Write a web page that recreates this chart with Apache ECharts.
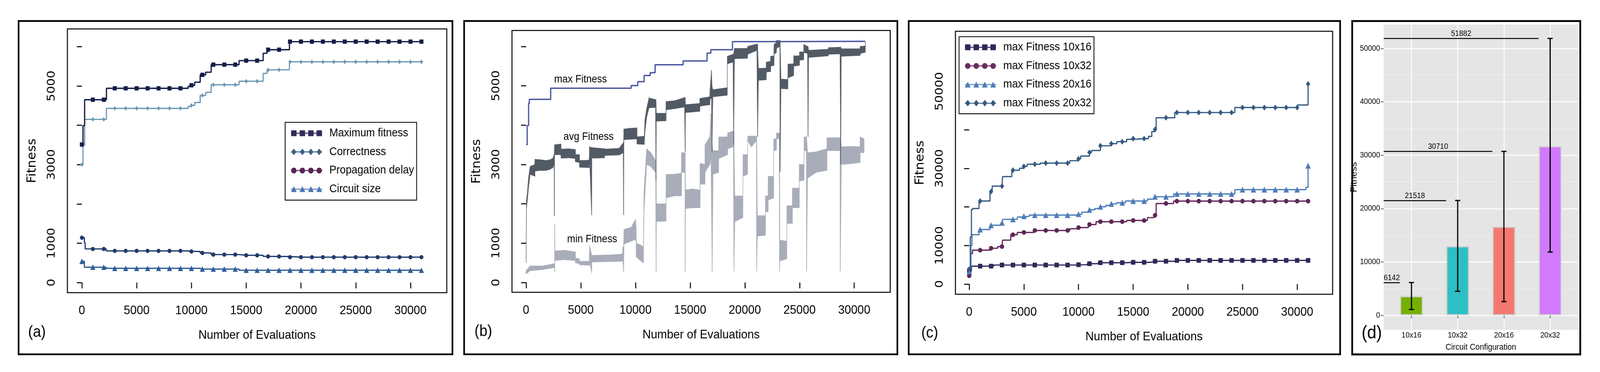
<!DOCTYPE html>
<html><head><meta charset="utf-8">
<script src="https://cdn.jsdelivr.net/npm/echarts@6/dist/echarts.min.js"></script>
<style>html,body{margin:0;padding:0;background:#fff;overflow:hidden}#c{position:absolute;left:0;top:0;width:4416px;height:952px;transform-origin:0 0}</style>
</head><body><div id="c"></div>
<script>
// ---------------- shared ticks ----------------
const evalTicks = [0,5000,10000,15000,20000,25000,30000];
const fitTicks = [0,1000,2000,3000,4000,5000,6000];
const fitTickLabels = [0,1000,3000,5000];

// ---------------- panel (a) ----------------
const aMaxFitness = [[0,3510],[100,3990],[250,4650],[1000,4650],[2000,4650],[2240,4940],[3000,4940],[4000,4940],[5000,4940],[6000,4940],[7000,4940],[8000,4940],[9000,4940],[9700,4990],[10000,5018],[10300,5096],[10800,5283],[11000,5283],[11300,5349],[11800,5542],[12000,5542],[13000,5542],[14000,5542],[14350,5645],[15000,5645],[16000,5645],[16550,5831],[16900,5922],[17000,5922],[18000,5922],[18950,6127],[19000,6127],[20000,6127],[21000,6127],[22000,6127],[23000,6127],[24000,6127],[25000,6127],[26000,6127],[27000,6127],[28000,6127],[29000,6127],[30000,6127],[31000,6127]];
const aCorrectness = [[0,3000],[100,3500],[250,4150],[1000,4150],[2000,4150],[2240,4430],[3000,4430],[4000,4430],[5000,4430],[6000,4430],[7000,4430],[8000,4430],[9000,4430],[9700,4476],[10000,4506],[10300,4578],[10800,4759],[11000,4759],[11300,4837],[11800,5030],[12000,5030],[13000,5030],[14000,5030],[14350,5120],[15000,5120],[16000,5120],[16550,5319],[16900,5410],[17000,5410],[18000,5410],[18950,5614],[19000,5614],[20000,5614],[21000,5614],[22000,5614],[23000,5614],[24000,5614],[25000,5614],[26000,5614],[27000,5614],[28000,5614],[29000,5614],[30000,5614],[31000,5614]];
const aPropDelay = [[0,1140],[230,1010],[300,855],[1000,853],[2000,853],[2220,805],[3000,805],[4000,805],[5000,805],[6000,805],[7000,805],[8000,805],[9000,805],[9700,795],[10000,790],[10800,755],[11000,753],[11800,711],[12000,711],[13000,711],[14000,711],[14350,693],[15000,693],[16000,693],[16550,665],[17000,663],[18000,663],[18950,645],[19000,645],[20000,645],[21000,645],[22000,645],[23000,645],[24000,645],[25000,645],[26000,645],[27000,645],[28000,645],[29000,645],[30000,645],[31000,645]];
const aCircuitSize = [[0,540],[230,390],[1000,390],[2000,390],[2220,361],[3000,361],[4000,361],[5000,361],[6000,361],[7000,361],[8000,361],[9000,361],[10000,361],[10800,343],[11000,343],[12000,343],[13000,343],[14000,343],[14350,313],[15000,313],[16000,313],[17000,313],[18000,313],[19000,313],[20000,313],[21000,313],[22000,313],[23000,313],[24000,313],[25000,313],[26000,313],[27000,313],[28000,313],[29000,313],[30000,313],[31000,313]];

// ---------------- panel (b) ----------------
const bMaxFitness = [[0,3503],[100,3990],[230,4560],[300,4655],[2243,4939],[9604,5006],[10211,5103],[10792,5261],[11346,5333],[11794,5533],[14354,5630],[16544,5830],[16887,5915],[18865,6121],[23200,6130],[31000,6130]];
// [evaluations, band low, band high]
const bAvgBand = [[0,500,560],[30,1900,2100],[100,2050,2250],[220,2400,2650],[370,2750,2950],[800,2700,3000],[810,2830,3130],[1300,2850,3120],[1840,2850,3100],[2200,2880,3120],[2450,2920,3160],[2570,3000,3260],[2585,1685,3260],[2600,3250,3500],[3180,3250,3520],[3200,3160,3390],[3900,3170,3400],[4500,3150,3380],[4510,3070,3250],[4880,3050,3250],[4890,2930,3100],[5770,2920,3110],[5800,3210,3450],[5990,1712,3430],[6010,3160,3430],[7170,3170,3400],[7180,3230,3390],[8500,3240,3410],[8880,3300,3550],[8918,1715,3550],[8940,3630,3900],[9500,3640,3920],[10130,3650,3930],[10140,3520,3700],[10800,3510,3720],[10870,3850,4150],[11020,4200,4420],[11240,4440,4690],[11830,4450,4650],[11873,2594,4650],[11900,4100,4300],[12790,4110,4300],[12800,4390,4600],[13600,4420,4620],[14490,4460,4700],[14540,3321,4700],[14570,4320,4520],[15880,4350,4550],[15890,4480,4680],[16800,4520,4720],[16810,4650,4870],[16950,4700,5400],[16992,3321,5000],[17070,4720,4900],[18390,4760,4950],[18400,5560,5750],[18920,5600,5800],[18971,3500,5800],[19050,5690,5950],[20240,5700,5950],[20250,5800,6000],[21100,5900,6060],[21161,3704,6050],[21240,5140,5440],[21950,5150,5450],[21960,5350,5600],[22350,5360,5620],[22360,5500,5750],[22660,5520,5760],[22670,5800,6050],[22880,5850,6100],[22890,5950,6150],[23200,6000,6150],[23219,2810,6150],[23300,4930,5170],[23930,4920,5160],[23940,5200,5550],[24460,5260,5560],[24470,5500,5760],[24990,5520,5760],[25000,5650,5860],[25380,5660,5860],[25390,5850,6050],[25730,5820,6000],[25778,3704,6000],[25830,5720,5900],[27630,5760,5930],[27640,5800,5970],[28700,5810,5980],[28760,3009,5980],[28810,5750,5940],[30530,5770,5940],[30540,5820,6000],[31000,5850,6010],[31010,6100,6120]];
const bMinBand = [[0,220,300],[370,300,420],[1500,330,420],[2590,380,480],[2610,260,480],[2620,700,1490],[2640,560,800],[3500,580,820],[4500,560,780],[4510,500,620],[4880,480,600],[4890,450,540],[5770,440,540],[5810,500,930],[5990,260,700],[6010,520,690],[7500,530,700],[8800,540,720],[8850,560,900],[8920,260,900],[8950,980,1350],[9600,1050,1400],[10000,1100,1600],[10060,1000,1400],[10070,650,1000],[10500,550,950],[10720,500,900],[10780,1800,2300],[11020,3000,3400],[11400,2950,3300],[11840,2800,3100],[11880,260,3100],[11910,1550,2000],[12790,1560,2000],[12800,2150,2750],[13500,2200,2750],[14200,2200,2780],[14210,2800,3300],[14530,2800,3300],[14540,280,3300],[14570,1880,2350],[15200,1900,2380],[15900,1900,2350],[15910,2500,3030],[16350,2500,3000],[16360,2800,3500],[16800,3000,3700],[16900,3200,4300],[17010,260,3500],[17090,2750,3350],[17600,2800,3350],[17610,3150,3700],[18420,3250,3700],[18430,3400,3800],[18950,3450,3850],[19000,280,3800],[19080,1550,2200],[19820,1650,2200],[19830,2700,3250],[20250,2750,3250],[20260,3600,3720],[20600,3450,3720],[21050,3600,3720],[21080,286,3720],[21140,1180,1700],[21880,1200,1700],[21890,1800,2200],[22130,1800,2200],[22140,2100,2700],[22630,2150,2700],[22640,3350,3650],[22880,3360,3650],[22890,3650,3800],[23140,3650,3800],[23170,286,3800],[23200,550,1080],[23830,600,1050],[23840,1500,1950],[24340,1500,1950],[24350,1900,2400],[24970,1900,2400],[24980,2580,3000],[25410,2600,3000],[25420,3350,3700],[25620,3350,3700],[25640,286,3700],[25730,2650,3300],[26500,2800,3320],[27500,2850,3400],[27510,3350,3680],[28700,3350,3680],[28720,286,3680],[28820,3000,3450],[29700,3020,3460],[30530,3050,3450],[30540,3300,3700],[30900,3300,3650]];
const bLabelText = ['max Fitness','avg Fitness','min Fitness'];
const bLabelAt = [[4980,5160],[5710,3700],[6040,1100]];

// ---------------- panel (c) ----------------
const cFitTicks = [0,10000,20000,30000,40000,50000,60000];
const cFitTickLabels = [0,10000,30000,50000];
const c10x16 = [[0,3510],[200,4650],[1000,4650],[2000,4650],[2240,4940],[3000,4940],[4000,4940],[5000,4940],[6000,4940],[7000,4940],[8000,4940],[9000,4940],[9700,4990],[10000,5018],[10800,5283],[11000,5283],[11800,5542],[12000,5542],[13000,5542],[14000,5542],[14350,5645],[15000,5645],[16000,5645],[16550,5831],[16900,5922],[17000,5922],[18000,5922],[18950,6142],[19000,6142],[20000,6142],[21000,6142],[22000,6142],[23000,6142],[24000,6142],[25000,6142],[26000,6142],[27000,6142],[28000,6142],[29000,6142],[30000,6142],[31000,6142]];
const c10x32 = [[0,2150],[150,7900],[300,8800],[1000,8800],[1900,9300],[2000,9300],[2600,9720],[3000,9720],[3050,11400],[3800,12800],[4000,12800],[4400,13400],[5000,13400],[5900,13900],[6000,13900],[7000,13900],[8000,13900],[9000,13900],[9200,14340],[10000,14650],[10900,15450],[11000,15450],[11600,16180],[12000,16180],[13000,16180],[14000,16180],[14400,16500],[15000,16500],[16000,16500],[16300,17230],[16900,17850],[17000,17850],[17100,20900],[18000,20900],[18700,21518],[19000,21518],[20000,21518],[21000,21518],[22000,21518],[23000,21518],[24000,21518],[25000,21518],[26000,21518],[27000,21518],[28000,21518],[29000,21518],[30000,21518],[31000,21518]];
const c20x16 = [[0,3260],[150,10000],[250,12800],[900,14150],[1000,14150],[1900,15260],[2000,15260],[2900,15880],[3000,15880],[3050,16800],[4000,16800],[4400,17400],[5000,17600],[5500,17900],[6000,17900],[7000,17900],[8000,17900],[9000,17900],[9800,18000],[10000,18150],[10300,18650],[11000,19260],[11500,19600],[12000,20060],[12500,20400],[13000,20800],[13500,21100],[14000,21100],[14300,21540],[15000,21540],[16000,21540],[16300,22030],[16900,22650],[17000,22650],[18000,22650],[18700,23380],[19000,23380],[20000,23380],[21000,23380],[22000,23380],[23000,23380],[24000,23380],[24300,24490],[25000,24490],[26000,24490],[27000,24490],[28000,24490],[29000,24490],[30000,24490],[30800,25100],[31000,30710]];
const c20x32 = [[0,3880],[100,12200],[200,19300],[300,19600],[900,21540],[1000,21540],[1900,24000],[2000,24000],[2100,25400],[3000,25420],[3050,27880],[3900,29540],[4000,29540],[4600,30030],[5000,30520],[5300,31080],[6000,31080],[6500,31380],[7000,31380],[8000,31380],[9000,31380],[9200,32000],[10000,32490],[10200,33200],[11000,34150],[11200,34650],[12000,35880],[13000,36430],[13500,36920],[14000,36920],[14400,37540],[15000,37720],[16000,37720],[16400,38300],[16700,39570],[17000,40120],[17100,43140],[18000,43140],[18800,44490],[19000,44490],[20000,44490],[21000,44490],[22000,44490],[23000,44490],[24000,44490],[24300,45790],[25000,45790],[26000,45790],[27000,45790],[28000,45790],[29000,45790],[30000,45790],[30050,46460],[31000,51882]];

// ---------------- panel (d) ----------------
const dCategories = ['10x16','10x32','20x16','20x32'];
const dMean = [3600,12950,16620,31700];
const dLow = [1100,4500,2560,11860];
const dHigh = [6142,21518,30710,51882];
const dTicks = [0,10000,20000,30000,40000,50000];
const dMinorTicks = [5000,15000,25000,35000,45000];

// ---------------- styling / layout ----------------
const SANS = "'Liberation Sans',Arial,sans-serif";
const DEJAVU = "'DejaVu Sans',sans-serif";

// fit the 4416x952 drawing into whatever viewport the browser reports
(function(){
  const el = document.getElementById('c');
  const sx = (window.innerWidth || 4416) / 4416, sy = (window.innerHeight || 952) / 952;
  el.style.transform = 'scale(' + sx + ',' + sy + ')';
})();

function rAxisX(g, min, max) {
  return {type:'value', gridIndex:g, min:min, max:max,
    axisLine:{show:false},
    axisTick:{show:true, length:15, lineStyle:{color:'#000', width:2.6}, customValues:evalTicks},
    axisLabel:{show:true, customValues:evalTicks, formatter:function(v){return String(v);}, margin:30,
      fontFamily:SANS, fontSize:32, color:'#000'},
    splitLine:{show:false},
    name:'Number of Evaluations', nameLocation:'middle', nameGap:93,
    nameTextStyle:{fontFamily:SANS, fontSize:32, color:'#000'}};
}
function rAxisY(g, min, max, ticks, labels) {
  return {type:'value', gridIndex:g, min:min, max:max,
    axisLine:{show:false},
    axisTick:{show:true, length:14, lineStyle:{color:'#000', width:2.6}, customValues:ticks},
    axisLabel:{show:true, customValues:labels, formatter:function(v){return String(v);}, rotate:90, margin:28,
      fontFamily:DEJAVU, fontSize:31, color:'#000'},
    splitLine:{show:false},
    name:'Fitness', nameLocation:'middle', nameGap:80,
    nameTextStyle:{fontFamily:DEJAVU, fontSize:33, color:'#000'}};
}
function stepLine(name, data, g, color, width, symbol, size, z) {
  return {type:'line', name:name, xAxisIndex:g, yAxisIndex:g, data:data, step:'end',
    symbol:function(v){ return (v[0] % 1000 === 0) ? symbol : 'none'; },
    symbolSize:size, showSymbol:true, showAllSymbol:true,
    lineStyle:{color:color, width:width}, itemStyle:{color:color, borderWidth:0},
    emphasis:{disabled:true}, z:z};
}
// noisy band drawn as filled quads between consecutive readings
function bandSeries(name, rows, g, color, z) {
  const segs = [];
  for (let i = 0; i < rows.length - 1; i++) {
    segs.push([rows[i][0], rows[i][1], rows[i][2], rows[i+1][0], rows[i+1][1], rows[i+1][2]]);
  }
  return {type:'custom', name:name, xAxisIndex:g, yAxisIndex:g, z:z, data:segs,
    encode:{x:[0,3], y:[1,2,4,5]}, silent:true,
    renderItem:function(params, api){
      const p1 = api.coord([api.value(0), api.value(1)]);
      const p2 = api.coord([api.value(0), api.value(2)]);
      const p3 = api.coord([api.value(3), api.value(5)]);
      const p4 = api.coord([api.value(3), api.value(4)]);
      return {type:'polygon', shape:{points:[p1,p2,p3,p4]}, style:{fill:color, stroke:color, lineWidth:1.3}};
    }};
}
const CX = [8, 31.5, 55, 78];
function legendIcon(kind) {
  let p = 'path://M0 0M101 24M0 10.8L86 10.8L86 13.2L0 13.2Z';
  CX.forEach(function(c){
    if (kind === 'sq') p += 'M'+(c-7.5)+' 4.5L'+(c+7.5)+' 4.5L'+(c+7.5)+' 19.5L'+(c-7.5)+' 19.5Z';
    if (kind === 'dia') p += 'M'+(c-7)+' 12L'+c+' 3.5L'+(c+7)+' 12L'+c+' 20.5Z';
    if (kind === 'cir') p += 'M'+(c-7.5)+' 12A7.5 7.5 0 1 1 '+(c+7.5)+' 12A7.5 7.5 0 1 1 '+(c-7.5)+' 12Z';
    if (kind === 'tri') p += 'M'+(c-8)+' 19.5L'+c+' 4.5L'+(c+8)+' 19.5Z';
  });
  return p;
}
function legendBox(left, top, padV, items) {
  return {show:true, orient:'vertical', left:left, top:top, padding:[padV,7,padV,16],
    itemGap:18.7, itemWidth:101, itemHeight:24, selectedMode:false,
    borderColor:'#000', borderWidth:2.2, backgroundColor:'#fff',
    textStyle:{fontFamily:SANS, fontSize:29, color:'#000', lineHeight:24},
    data:items.map(function(it){ return {name:it[0], icon:legendIcon(it[1]), itemStyle:{color:it[2], borderWidth:0}}; })};
}

const chart = echarts.init(document.getElementById('c'), null, {renderer:'canvas', width:4416, height:952});
const dIdx = dCategories.map(function(c,i){return i+1;});
const dColors = ['#74B000','#2DBFC4','#F4786F','#D17AFE'];

const option = {
  animation:false,
  backgroundColor:'#fff',
  textStyle:{fontFamily:SANS},
  grid:[
    {left:186, top:74, width:1047, height:675, show:true, borderColor:'#000', borderWidth:2.7, backgroundColor:'transparent', outerBoundsMode:'none'},
    {left:1413, top:78, width:1044, height:670, show:true, borderColor:'#000', borderWidth:2.7, backgroundColor:'transparent', outerBoundsMode:'none'},
    {left:2637, top:80, width:1041, height:673, show:true, borderColor:'#000', borderWidth:2.7, backgroundColor:'transparent', outerBoundsMode:'none'},
    {left:3819, top:63, width:536, height:781, show:true, borderWidth:0, backgroundColor:'#E5E5E5', outerBoundsMode:'none'}
  ],
  xAxis:[
    rAxisX(0, -1323, 33311),
    rAxisX(1, -1292, 33289),
    rAxisX(2, -1260, 33245),
    {type:'value', gridIndex:3, min:0.4, max:4.6, axisLine:{show:false},
      axisTick:{show:true, length:8, lineStyle:{color:'#7F7F7F', width:2.5}, customValues:dIdx},
      axisLabel:{customValues:dIdx, formatter:function(v){return dCategories[Math.round(v)-1];}, margin:4,
        fontFamily:SANS, fontSize:20, color:'#000'},
      splitLine:{show:true, lineStyle:{color:'#fff', width:2.5}},
      name:'Circuit Configuration', nameLocation:'middle', nameGap:34,
      nameTextStyle:{fontFamily:SANS, fontSize:21.5, color:'#000'}}
  ],
  yAxis:[
    rAxisY(0, -258, 6451, fitTicks, fitTickLabels),
    rAxisY(1, -248, 6405, fitTicks, fitTickLabels),
    rAxisY(2, -2635, 65573, cFitTicks, cFitTickLabels),
    {type:'value', gridIndex:3, min:-2709, max:54466, position:'left', axisLine:{show:false},
      axisTick:{show:true, length:8, lineStyle:{color:'#7F7F7F', width:2.5}, customValues:dTicks},
      axisLabel:{customValues:dTicks, formatter:function(v){return String(v);}, margin:10,
        fontFamily:SANS, fontSize:20, color:'#000'},
      splitLine:{show:true, lineStyle:{color:'#fff', width:2.5}},
      name:'Fitness', nameLocation:'middle', nameGap:60,
      nameTextStyle:{fontFamily:SANS, fontSize:24, color:'#000'}},
    {type:'value', gridIndex:3, min:-2709, max:54466, position:'left', axisLine:{show:false},
      axisTick:{show:false, customValues:dMinorTicks}, axisLabel:{show:false},
      splitLine:{show:true, lineStyle:{color:'#F3F3F3', width:1.2}}}
  ],
  legend:[
    legendBox(787, 313, 13.5, [['Maximum fitness','sq','#33295a'],['Correctness','dia','#3b5e80'],['Propagation delay','cir','#5a2553'],['Circuit size','tri','#4a78b4']]),
    legendBox(2647, 94, 12.5, [['max Fitness 10x16','sq','#2e2858'],['max Fitness 10x32','cir','#6b2b5f'],['max Fitness 20x16','tri','#4c7cb6'],['max Fitness 20x32','dia','#355a80']])
  ],
  series:[
    // (a)
    stepLine('Circuit size', aCircuitSize, 0, '#2d5c98', 3.2, 'triangle', 14, 3),
    stepLine('Propagation delay', aPropDelay, 0, '#1f3a6b', 3.2, 'circle', 11, 3),
    stepLine('Correctness', aCorrectness, 0, '#6c98b2', 3.2, 'diamond', [9,12], 3),
    stepLine('Maximum fitness', aMaxFitness, 0, '#141c48', 3.4, 'rect', 11, 4),
    // (b)
    bandSeries('min Fitness band', bMinBand, 1, '#a8adb9', 2),
    bandSeries('avg Fitness band', bAvgBand, 1, '#525b65', 3),
    {type:'line', name:'max Fitness', xAxisIndex:1, yAxisIndex:1, data:bMaxFitness, step:'end', symbol:'none',
      lineStyle:{color:'#4a57a0', width:3.5}, emphasis:{disabled:true}, z:5,
      markPoint:{symbol:'circle', symbolSize:1, silent:true, itemStyle:{color:'rgba(0,0,0,0)'},
        label:{show:true, position:'inside', formatter:'{b}', fontFamily:SANS, fontSize:27, color:'#000'},
        data:bLabelText.map(function(t,i){return {name:t, coord:bLabelAt[i]};})}},
    // (c)
    stepLine('max Fitness 10x16', c10x16, 2, '#2e2858', 3.2, 'rect', 12, 3),
    stepLine('max Fitness 10x32', c10x32, 2, '#5e2656', 3.2, 'circle', 12, 3),
    stepLine('max Fitness 20x16', c20x16, 2, '#4c7cb6', 3.2, 'triangle', 15, 3),
    stepLine('max Fitness 20x32', c20x32, 2, '#355a80', 3.2, 'diamond', [12,15], 3),
    // (d)
    {type:'bar', name:'mean', xAxisIndex:3, yAxisIndex:3, barWidth:63,
      data:dMean.map(function(v,i){return {value:[i+1, v], itemStyle:{color:dColors[i]}};}),
      itemStyle:{borderColor:'#D2D2D2', borderWidth:3}, emphasis:{disabled:true}, z:3,
      markLine:{silent:true, symbol:['none','none'], animation:false,
        lineStyle:{color:'#000', width:2.5, type:'solid'},
        label:{show:true, position:'insideMiddleTop', distance:2, formatter:function(p){return p.name;},
          fontFamily:SANS, fontSize:20, color:'#000'},
        data:dHigh.map(function(v,i){return [{name:String(v), coord:[0.4, v]}, {name:String(v), coord:[i+1-0.25, v]}];})}},
    {type:'custom', name:'range', xAxisIndex:3, yAxisIndex:3, z:6, silent:true,
      data:dCategories.map(function(c,i){return [i+1, dLow[i], dHigh[i]];}),
      encode:{x:0, y:[1,2]},
      renderItem:function(params, api){
        const x = api.value(0);
        const p1 = api.coord([x, api.value(1)]);
        const p2 = api.coord([x, api.value(2)]);
        const h = 7, st = {stroke:'#000', lineWidth:3.2};
        return {type:'group', children:[
          {type:'line', shape:{x1:p1[0], y1:p1[1], x2:p2[0], y2:p2[1]}, style:st},
          {type:'line', shape:{x1:p1[0]-h, y1:p1[1], x2:p1[0]+h, y2:p1[1]}, style:st},
          {type:'line', shape:{x1:p2[0]-h, y1:p2[1], x2:p2[0]+h, y2:p2[1]}, style:st}
        ]};
      }}
  ],
  graphic:[
    {type:'rect', silent:true, z:100, shape:{x:51.3, y:53.8, width:1197.4, height:852.9}, style:{fill:'none', stroke:'#000', lineWidth:4.5}},
    {type:'rect', silent:true, z:100, shape:{x:1281, y:53.8, width:1195.7, height:852.9}, style:{fill:'none', stroke:'#000', lineWidth:4.5}},
    {type:'rect', silent:true, z:100, shape:{x:2508, y:53.8, width:1190.7, height:852.9}, style:{fill:'none', stroke:'#000', lineWidth:4.5}},
    {type:'rect', silent:true, z:100, shape:{x:3732, y:53.8, width:629.5, height:853.2}, style:{fill:'none', stroke:'#000', lineWidth:4.8}},
    {type:'text', silent:true, z:100, x:102, y:851, style:{text:'(a)', fontFamily:SANS, fontSize:40, fill:'#000', align:'center', verticalAlign:'middle'}},
    {type:'text', silent:true, z:100, x:1334, y:849, style:{text:'(b)', fontFamily:SANS, fontSize:40, fill:'#000', align:'center', verticalAlign:'middle'}},
    {type:'text', silent:true, z:100, x:2566, y:853, style:{text:'(c)', fontFamily:SANS, fontSize:40, fill:'#000', align:'center', verticalAlign:'middle'}},
    {type:'text', silent:true, z:100, x:3786, y:853, style:{text:'(d)', fontFamily:SANS, fontSize:46, fill:'#000', align:'center', verticalAlign:'middle'}}
  ]
};
chart.setOption(option);
</script>
</body></html>
